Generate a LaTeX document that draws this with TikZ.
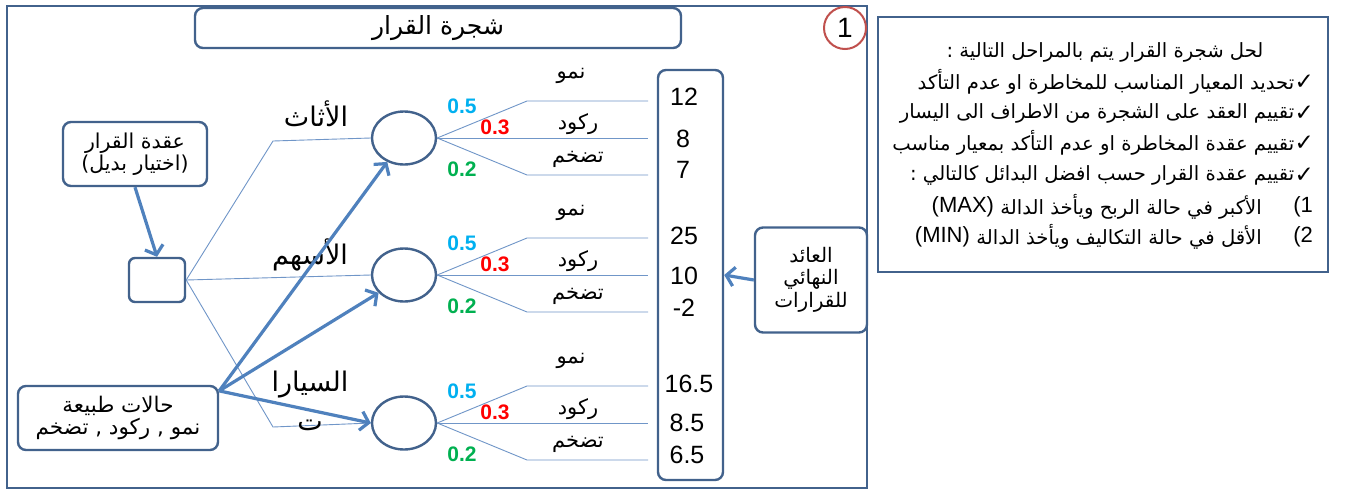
\documentclass[tikz,border=0pt]{standalone}
\usepackage{fontspec}
\setmainfont{Liberation Sans}
\newfontfamily\arabicfont[Script=Arabic]{DejaVu Sans}
\newfontfamily\symbolfont{DejaVu Sans}
\TeXXeTstate=1
\usetikzlibrary{arrows.meta,shapes.geometric}
\newcommand{\artext}[1]{{\arabicfont\beginR #1\endR}}
\newcommand{\fsz}[1]{\fontsize{#1}{#1}\selectfont}

\definecolor{boxblue}{HTML}{42628C}
\definecolor{arrowblue}{HTML}{4F81BD}
\definecolor{thinblue}{HTML}{7096C8}
\definecolor{badgered}{HTML}{C0504D}
\definecolor{pcyan}{HTML}{00B0F0}
\definecolor{pred}{HTML}{FF0000}
\definecolor{pgreen}{HTML}{00B050}

\begin{document}
\begin{tikzpicture}[x=1pt,y=-1pt,
  rbox/.style={draw=boxblue,line width=2.4pt,rounded corners=8pt,fill=white,inner sep=0pt,align=center},
  oval/.style={ellipse,draw=boxblue,line width=2.4pt,minimum width=64pt,minimum height=53pt,inner sep=0pt},
  thin/.style={draw=thinblue,line width=0.9pt},
  bigarrow/.style={draw=arrowblue,line width=3.2pt,-{Straight Barb[length=8pt,width=19pt]}},
  outcome/.style={font=\fsz{21},inner sep=0pt},
  prob/.style={font=\bfseries\fsz{21},inner sep=0pt},
  payoff/.style={font=\fsz{25},inner sep=0pt},
  branch/.style={font=\fsz{27},inner sep=0pt,align=center},
  infoline/.style={font=\fsz{19.6},inner sep=0pt,anchor=east},
  tick/.style={font=\symbolfont\fsz{23},inner sep=0pt,anchor=east},
]
\useasboundingbox (0,0) rectangle (1359,491);
\fill[white] (0,0) rectangle (1359,491);

% ---- decision tree panel ----
\draw[draw=boxblue,line width=2.4pt] (7,6) rectangle (867,488);
\node[rbox,minimum width=486pt,minimum height=40pt,font=\fsz{25}] (title) at (438,28) {\artext{شجرة القرار}};
\node[circle,draw=badgered,line width=2pt,minimum size=42pt,inner sep=0pt,fill=white,font=\fsz{28}] (badge) at (845,28) {1};

% decision node and its description
\node[rbox,minimum width=144pt,minimum height=64pt,font=\fsz{20.5}] (dec) at (135,154)
  {\artext{عقدة القرار}\\[1pt]\artext{(اختيار بديل)}};
\node[rbox,rounded corners=6pt,minimum width=56pt,minimum height=44pt] (sq) at (157,280) {};
\draw[bigarrow] (dec.south) -- (sq.north);

% chance nodes
\node[oval] (c1) at (404,138) {};
\node[oval] (c2) at (404,275) {};
\node[oval] (c3) at (404,423) {};

% alternatives
\coordinate (k1) at (273,141);
\coordinate (k3) at (273,427);
\draw[thin] (sq.east) -- (k1) -- (c1.west);
\draw[thin] (sq.east) -- (c2.west);
\draw[thin] (sq.east) -- (k3) -- (c3.west);

\node[branch] (alt1) at (316,114) {\artext{الأثاث}};
\node[branch] (alt2) at (310,255) {\artext{الأسهم}};
\node[branch] (alt3) at (310,401) {\artext{السيارا}\\[12pt]\artext{ت}};

% outcome branches of each chance node
\foreach \n/\cy in {1/138,2/275,3/423}{
  \coordinate (bt\n) at (527,{\cy-37});
  \coordinate (bb\n) at (527,{\cy+37});
  \coordinate (et\n) at (648,{\cy-37});
  \coordinate (em\n) at (648,\cy);
  \coordinate (eb\n) at (648,{\cy+37});
  \draw[thin] (c\n.east) -- (bt\n) -- (et\n);
  \draw[thin] (c\n.east) -- (em\n);
  \draw[thin] (c\n.east) -- (bb\n) -- (eb\n);
  \node[outcome] (up\n) at (571,{\cy-62}) {\artext{نمو}};
  \node[outcome] (st\n) at (578,{\cy-14}) {\artext{ركود}};
  \node[outcome] (in\n) at (578,{\cy+21}) {\artext{تضخم}};
  \node[prob,text=pcyan] (pa\n) at (462,{\cy-32}) {0.5};
  \node[prob,text=pred] (pb\n) at (495,{\cy-11}) {0.3};
  \node[prob,text=pgreen] (pc\n) at (462,{\cy+31}) {0.2};
}

% payoff column
\node[rbox,minimum width=65pt,minimum height=410pt] (pay) at (690.5,275) {};
\node[payoff] (v1) at (684,97) {12};
\node[payoff] (v2) at (683,139) {8};
\node[payoff] (v3) at (683,170) {7};
\node[payoff] (v4) at (684,236) {25};
\node[payoff] (v5) at (684,276) {10};
\node[payoff] (v6) at (684,308) {-2};
\node[payoff] (v7) at (689,384) {16.5};
\node[payoff] (v8) at (687,423) {8.5};
\node[payoff] (v9) at (687,455) {6.5};

% final return label
\node[rbox,minimum width=112pt,minimum height=105pt,font=\fsz{20}] (ret) at (811,280)
  {\artext{العائد}\\[2pt]\artext{النهائي}\\[2pt]\artext{للقرارات}};
\draw[bigarrow] (ret.west) -- (pay.east);

% states of nature
\node[rbox,minimum width=200pt,minimum height=64pt,font=\fsz{21.5}] (nat) at (118,418)
  {\artext{حالات طبيعة}\\[1pt]\artext{نمو , ركود , تضخم}};
\draw[bigarrow] (nat.15) -- (c1.235);
\draw[bigarrow] (nat.15) -- (c2.215);
\draw[bigarrow] (nat.15) -- (c3.west);

% ---- solution steps panel ----
\draw[draw=boxblue,line width=2.4pt] (878,17) rectangle (1328,272);
\node[font=\fsz{19.6},inner sep=0pt] (l1) at (1105,52) {\artext{لحل شجرة القرار يتم بالمراحل التالية :}};
\node[tick] (k2) at (1314,82) {✓};
\node[infoline] (l2) at (k2.west) {\artext{تحديد المعيار المناسب للمخاطرة او عدم التأكد}};
\node[tick] (k3b) at (1314,113) {✓};
\node[infoline] (l3) at (k3b.west) {\artext{تقييم العقد على الشجرة من الاطراف الى اليسار}};
\node[tick] (k4) at (1314,143) {✓};
\node[infoline] (l4) at (k4.west) {\artext{تقييم عقدة المخاطرة او عدم التأكد بمعيار مناسب}};
\node[tick] (k5) at (1314,175) {✓};
\node[infoline] (l5) at (k5.west) {\artext{تقييم عقدة القرار حسب افضل البدائل كالتالي :}};
\node[infoline,font=\fsz{22}] (n6) at (1313,207) {(1};
\node[infoline] (l6) at (1262,207) {\artext{الأكبر في حالة الربح ويأخذ الدالة}};
\node[infoline,font=\fsz{22},xshift=-6pt] (m6) at (l6.west) {(MAX)};
\node[infoline,font=\fsz{22}] (n7) at (1313,237) {(2};
\node[infoline] (l7) at (1262,237) {\artext{الأقل في حالة التكاليف ويأخذ الدالة}};
\node[infoline,font=\fsz{22},xshift=-6pt] (m7) at (l7.west) {(MIN)};
\end{tikzpicture}
\end{document}
